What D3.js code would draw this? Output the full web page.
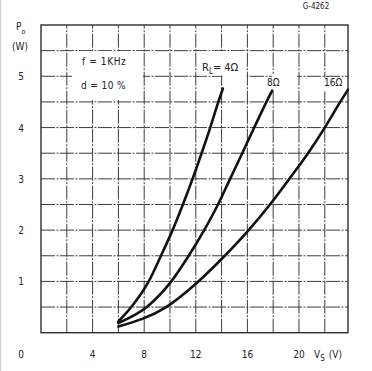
<!DOCTYPE html>
<html>
<head>
<meta charset="utf-8">
<script src="https://cdn.jsdelivr.net/npm/d3@7"></script>
<style>
  body { margin: 0; background: #fff; }
  text { font-family: "DejaVu Sans Condensed", "DejaVu Sans", sans-serif; fill: #222; }
</style>
</head>
<body>
<div id="chart"></div>
<script>
// values
const xTicks = [4, 8, 12, 16, 20];
const yTicks = [1, 2, 3, 4, 5];
const xGrid = [2, 4, 6, 8, 10, 12, 14, 16, 18, 20, 22];
const yGrid = [0.5, 1, 1.5, 2, 2.5, 3, 3.5, 4, 4.5, 5, 5.5];

const vs4 = [6.0, 7.0, 8.35, 9.3, 10.2, 11.0, 11.75, 12.45, 13.12, 13.75, 14.1];
const po4 = [0.22, 0.5, 1.0, 1.5, 2.0, 2.5, 3.0, 3.5, 4.0, 4.5, 4.76];
const vs8 = [6.0, 8.2, 10.1, 11.45, 12.65, 13.72, 14.66, 15.6, 16.53, 17.48, 17.92];
const po8 = [0.19, 0.5, 1.0, 1.5, 2.0, 2.5, 3.0, 3.5, 4.0, 4.5, 4.72];
const vs16 = [6.0, 9.7, 12.2, 14.25, 16.1, 17.75, 19.25, 20.7, 22.0, 23.2, 23.8];
const po16 = [0.12, 0.5, 1.0, 1.5, 2.0, 2.5, 3.0, 3.5, 4.0, 4.5, 4.74];

const width = 372, height = 371;

const svg = d3.select("#chart")
  .append("svg")
  .attr("width", width)
  .attr("height", height);

const x = d3.scaleLinear().domain([0, 23.8]).range([41, 348]);
const y = d3.scaleLinear().domain([0, 6]).range([332.7, 25]);

// faint scan edge
svg.append("line").attr("x1", 0.5).attr("x2", 0.5).attr("y1", 0).attr("y2", height)
  .attr("stroke", "#d0d0d0").attr("stroke-width", 1.5);

const grid = svg.append("g")
  .attr("stroke", "#3c3c3c")
  .attr("stroke-width", 1)
  .attr("stroke-dasharray", "14,1.5,2,1.5");

grid.selectAll(".vx").data(xGrid).enter().append("line")
  .attr("x1", d => x(d)).attr("x2", d => x(d))
  .attr("y1", y(0)).attr("y2", y(6));

grid.selectAll(".hy").data(yGrid).enter().append("line")
  .attr("x1", x(0)).attr("x2", x(23.8))
  .attr("y1", d => y(d)).attr("y2", d => y(d));

svg.append("rect")
  .attr("x", x(0)).attr("y", y(6))
  .attr("width", x(23.8) - x(0)).attr("height", y(0) - y(6))
  .attr("fill", "none").attr("stroke", "#2e2e2e").attr("stroke-width", 1.4);

// white patches where the grid is cut for the labels
const masks = [
  [72, 51, 71, 49],
  [198, 51, 48, 24.5],
  [222.5, 74, 24, 4],
  [264, 77.5, 22, 13],
  [272, 74, 25, 4],
  [318, 77.5, 29, 14]
];
svg.selectAll(".mask").data(masks).enter().append("rect")
  .attr("x", d => d[0]).attr("y", d => d[1])
  .attr("width", d => d[2]).attr("height", d => d[3])
  .attr("fill", "#fff");

const line = d3.line()
  .x(d => x(d[0]))
  .y(d => y(d[1]))
  .curve(d3.curveMonotoneX);

[[vs4, po4], [vs8, po8], [vs16, po16]].forEach(function(s) {
  svg.append("path")
    .datum(d3.zip(s[0], s[1]))
    .attr("d", line)
    .attr("fill", "none")
    .attr("stroke", "#111")
    .attr("stroke-width", 2.6)
    .attr("stroke-linecap", "round");
});

// tick labels
svg.selectAll(".yt").data(yTicks).enter().append("text")
  .attr("x", 21).attr("y", d => y(d) + 4)
  .attr("text-anchor", "middle")
  .style("font-size", "10px")
  .text(d => d);

svg.selectAll(".xt").data(xTicks).enter().append("text")
  .attr("x", d => x(d)).attr("y", 358)
  .attr("text-anchor", "middle")
  .style("font-size", "10px")
  .text(d => d);

svg.append("text").attr("x", 21).attr("y", 358)
  .attr("text-anchor", "middle").style("font-size", "10px").text("0");

// axis titles
const po = svg.append("text").attr("x", 16).attr("y", 30).style("font-size", "10px");
po.append("tspan").text("P");
po.append("tspan").attr("dy", 4).style("font-size", "7px").text("o");

svg.append("text").attr("x", 20).attr("y", 50)
  .attr("text-anchor", "middle").style("font-size", "10px").text("(W)");

const vsl = svg.append("text").attr("x", 314).attr("y", 358).style("font-size", "10px");
vsl.append("tspan").text("V");
vsl.append("tspan").attr("dy", 3).style("font-size", "8px").text("S");
vsl.append("tspan").attr("dy", -3).attr("dx", 4).text("(V)");

svg.append("text").attr("x", 316).attr("y", 9)
  .attr("text-anchor", "middle").style("font-size", "8px").text("G-4262");

// conditions
svg.append("text").attr("x", 82).attr("y", 65).style("font-size", "10px")
  .style("letter-spacing", "0.6px").text("f = 1KHz");
svg.append("text").attr("x", 81).attr("y", 89).style("font-size", "10px")
  .style("letter-spacing", "0.4px").text("d = 10 %");

// load labels
const rl = svg.append("text").attr("x", 202).attr("y", 71).style("font-size", "11px");
rl.append("tspan").text("R");
rl.append("tspan").attr("dy", 3).style("font-size", "8px").text("L");
rl.append("tspan").attr("dy", -3).text("= 4Ω");

svg.append("text").attr("x", 267).attr("y", 86).style("font-size", "10px").text("8Ω");
svg.append("text").attr("x", 324).attr("y", 86).style("font-size", "10px").text("16Ω");
</script>
</body>
</html>
